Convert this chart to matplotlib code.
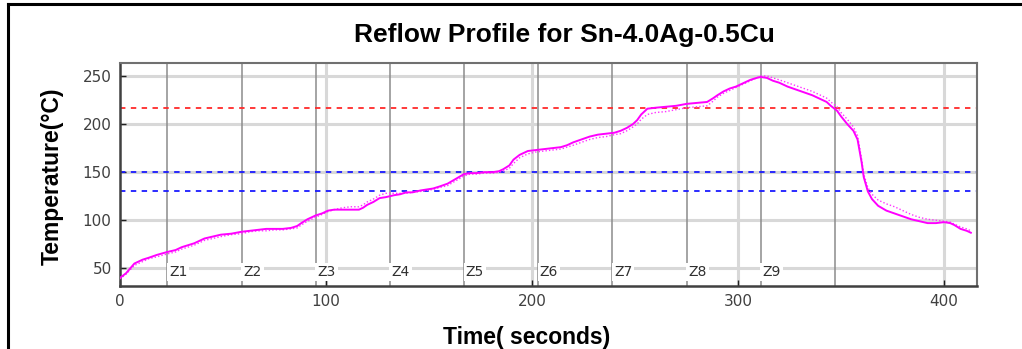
import matplotlib
matplotlib.use("Agg")
import matplotlib.pyplot as plt
from matplotlib.lines import Line2D

# oven thermocouple readings (s, degC)
time_s = [0, 3, 7, 11, 14, 18, 23, 27, 30, 36, 41, 45, 49, 54, 59, 63, 67, 71, 75, 79,
          83, 86, 88, 91, 95, 98, 101, 104, 108, 112, 116, 118, 120, 123, 126, 129, 133,
          136, 139, 142, 146, 149, 152, 155, 159, 163, 167, 170, 173, 177, 181, 184, 186,
          189, 191, 194, 198, 202, 206, 210, 214, 217, 220, 224, 228, 232, 236, 240, 243,
          246, 249, 251, 253, 256, 260, 265, 270, 275, 280, 285, 288, 290, 293, 296, 299,
          302, 306, 309, 311, 314, 317, 320, 324, 328, 332, 336, 340, 343, 345, 348, 350,
          353, 356, 358, 359, 360, 361, 363, 365, 368, 372, 376, 380, 384, 388, 392, 396,
          400, 403, 405, 408, 411, 413]
tc1 = [40, 45, 55, 59, 61, 64, 67, 69, 72, 76, 81, 83, 85, 86, 88, 89, 90, 91, 91, 91,
       92, 94, 97, 101, 105, 107, 110, 111, 111, 111, 111, 113, 116, 119, 123, 124, 126,
       127, 129, 129, 131, 132, 133, 135, 138, 143, 148, 149, 149, 150, 150, 151, 153,
       157, 163, 168, 172, 173, 174, 175, 176, 178, 181, 184, 187, 189, 190, 191, 193,
       196, 200, 204, 210, 216, 217, 218, 219, 221, 222, 223, 227, 230, 234, 237, 239,
       242, 246, 248, 249, 248, 245, 243, 239, 236, 233, 230, 226, 223, 219, 214, 208,
       200, 193, 184, 172, 160, 145, 130, 122, 115, 110, 107, 104, 101, 99, 97, 97,
       98, 97, 95, 91, 89, 87]
tc2 = [39, 44, 53, 57, 60, 62, 65, 67, 70, 74, 79, 81, 83, 85, 86, 88, 89, 89, 90, 90,
       91, 92, 95, 99, 103, 106, 109, 111, 113, 114, 114, 116, 119, 122, 126, 128, 128,
       128, 128, 129, 130, 131, 132, 134, 136, 141, 146, 148, 148, 149, 149, 150, 151,
       154, 159, 165, 169, 171, 172, 173, 174, 176, 178, 181, 184, 186, 187, 189, 190,
       193, 197, 200, 205, 210, 212, 213, 215, 217, 218, 219, 224, 228, 232, 235, 238,
       241, 245, 248, 250, 250, 248, 246, 243, 240, 237, 234, 230, 227, 223, 218, 212,
       205, 197, 188, 176, 163, 148, 134, 127, 121, 117, 114, 110, 106, 103, 101, 100,
       99, 98, 96, 93, 91, 89]

# zone boundaries (s) and reference levels (degC)
zone_edges = [23, 59, 95, 131, 167, 203, 239, 275, 311, 347]
zone_names = ["Z1", "Z2", "Z3", "Z4", "Z5", "Z6", "Z7", "Z8", "Z9"]
liquidus = 217
soak_levels = [150, 130]

tick_font = ["Liberation Sans Narrow", "DejaVu Sans"]
bold_font = ["Liberation Sans", "DejaVu Sans"]

fig = plt.figure(figsize=(10.22, 3.49), dpi=100)
ax = fig.add_axes([0.1174, 0.1805, 0.8386, 0.6398])

ax.set_xlim(0, 416)
ax.set_ylim(31.6, 263.8)
ax.set_xticks([0, 100, 200, 300, 400])
ax.set_yticks([50, 100, 150, 200, 250])

for v in [100, 200, 300, 400]:
    ax.axvline(v, color="#d8d8d8", lw=2.2, zorder=0)
for v in [50, 100, 150, 200, 250]:
    ax.axhline(v, color="#d8d8d8", lw=2.2, zorder=0)
for v in zone_edges:
    ax.axvline(v, color="#8c8c8c", lw=1.1, zorder=1)

ax.axhline(liquidus, color="#ff2a2a", lw=1.3, ls=(0, (3, 3)), zorder=2)
for v in soak_levels:
    ax.axhline(v, color="#1a1aff", lw=1.3, ls=(0, (3, 3)), zorder=2)

for x, name in zip(zone_edges, zone_names):
    ax.text(x + 0.8, 46, name, fontsize=10, color="#303030", family=tick_font,
            ha="left", va="center", zorder=3,
            bbox=dict(boxstyle="square,pad=0.15", fc="white", ec="none"))

ax.plot(time_s, tc2, color="#ff33ff", lw=1.0, ls=(0, (1, 1.5)), zorder=4)
ax.plot(time_s, tc1, color="#ff00ff", lw=1.4, zorder=5)

for side in ["left", "bottom"]:
    ax.spines[side].set_color("#404040")
    ax.spines[side].set_linewidth(1.8)
for side in ["top", "right"]:
    ax.spines[side].set_color("#707070")
    ax.spines[side].set_linewidth(1.5)

ax.tick_params(direction="in", length=4, width=1, color="#202020", pad=6,
               labelsize=11, labelcolor="#404040")
for lab in ax.get_xticklabels() + ax.get_yticklabels():
    lab.set_family(tick_font)

fig.text(0.552, 0.90, "Reflow Profile for Sn-4.0Ag-0.5Cu", fontsize=19,
         fontweight="bold", family=bold_font, ha="center", va="center")
fig.text(0.5157, 0.034, "Time( seconds)", fontsize=16.5, fontweight="bold",
         family=bold_font, ha="center", va="center")
fig.text(0.051, 0.494, "Temperature(°C)", fontsize=16.5, fontweight="bold",
         family=bold_font, ha="center", va="center", rotation=90)

# frame lines along the left and top edges of the figure
fig.add_artist(Line2D([0.008, 0.008], [0, 0.988], transform=fig.transFigure,
                      color="black", lw=2.2))
fig.add_artist(Line2D([0.008, 1.0], [0.988, 0.988], transform=fig.transFigure,
                      color="black", lw=2.2))

fig.savefig("out.png", dpi=100)
